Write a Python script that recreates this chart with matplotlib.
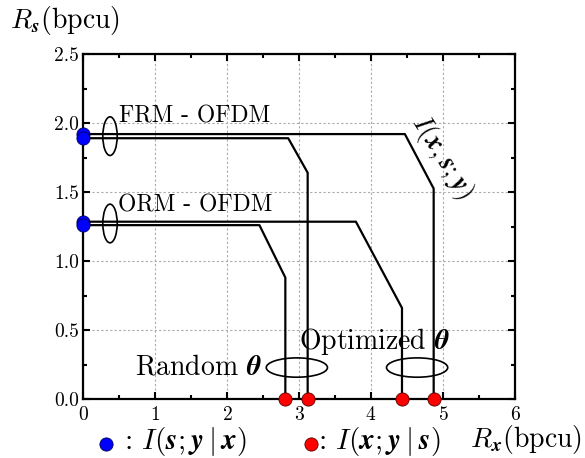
import numpy as np
import matplotlib
matplotlib.use('Agg')
import matplotlib.pyplot as plt
from matplotlib.patches import Ellipse
from matplotlib.lines import Line2D

plt.rcParams['font.family'] = 'cmr10'
plt.rcParams['mathtext.fontset'] = 'cm'
plt.rcParams['axes.formatter.use_mathtext'] = True

# rate-region boundaries (x = R_x, y = R_s)
frm_opt_x = [0, 4.47, 4.87, 4.87]
frm_opt_y = [1.92, 1.92, 1.525, 0]
frm_rand_x = [0, 2.85, 3.12, 3.12]
frm_rand_y = [1.89, 1.89, 1.64, 0]
orm_opt_x = [0, 3.79, 4.43, 4.43]
orm_opt_y = [1.285, 1.285, 0.66, 0]
orm_rand_x = [0, 2.45, 2.81, 2.81]
orm_rand_y = [1.26, 1.26, 0.88, 0]

curves = [(frm_opt_x, frm_opt_y), (frm_rand_x, frm_rand_y),
          (orm_opt_x, orm_opt_y), (orm_rand_x, orm_rand_y)]

fig = plt.figure(figsize=(5.85, 4.58), dpi=100)
ax = fig.add_axes([0.1419, 0.1288, 0.7385, 0.7532])

for cx, cy in curves:
    ax.plot(cx, cy, color='k', lw=1.6, zorder=3)

# blue: I(s;y|x) on the R_s axis, red: I(x;y|s) on the R_x axis
for cx, cy in curves:
    ax.plot(0, cy[0], 'o', ms=9.5, mfc='#0000ff', mec='#000055', mew=0.6,
            clip_on=False, zorder=5)
    ax.plot(cx[-1], 0, 'o', ms=9.5, mfc='#ff0000', mec='#550000', mew=0.6,
            clip_on=False, zorder=5)

# ellipses grouping the curves
ax.add_patch(Ellipse((0.375, 1.905), 0.2, 0.28, fill=False, lw=1.2, zorder=4))
ax.add_patch(Ellipse((0.375, 1.272), 0.2, 0.28, fill=False, lw=1.2, zorder=4))
ax.add_patch(Ellipse((2.97, 0.228), 0.85, 0.14, fill=False, lw=1.2, zorder=4))
ax.add_patch(Ellipse((4.64, 0.228), 0.85, 0.14, fill=False, lw=1.2, zorder=4))

ax.text(0.5, 2.05, 'FRM - OFDM', fontsize=17, va='center', ha='left')
ax.text(0.49, 1.40, 'ORM - OFDM', fontsize=17, va='center', ha='left')
ax.text(2.48, 0.23, r'Random $\boldsymbol{\theta}$', fontsize=20,
        va='center', ha='right')
ax.text(3.0, 0.42, r'Optimized $\boldsymbol{\theta}$', fontsize=20,
        va='center', ha='left')
ax.text(4.98, 1.75, r'$I(\boldsymbol{x},\boldsymbol{s};\boldsymbol{y})$',
        fontsize=19.5, rotation=-58, va='center', ha='center',
        rotation_mode='anchor')

ax.set_xlim(0, 6)
ax.set_ylim(0, 2.5)
ax.set_xticks(np.arange(0, 7, 1))
ax.set_yticks(np.arange(0, 2.51, 0.5))
ax.set_xticks(np.arange(0.5, 6, 1), minor=True)
ax.set_yticks(np.arange(0.25, 2.5, 0.5), minor=True)
ax.set_yticklabels(['0.0', '0.5', '1.0', '1.5', '2.0', '2.5'])
ax.tick_params(which='both', direction='in', top=True, right=True,
               labelsize=14, width=1.5)
ax.tick_params(axis='x', pad=5)
ax.tick_params(axis='y', pad=3)
ax.tick_params(which='major', length=5)
ax.tick_params(which='minor', length=3)
for s in ax.spines.values():
    s.set_linewidth(1.6)
ax.grid(True, which='major', ls=(0, (2, 2)), color='#aaaaaa', lw=0.8)

# axis labels
fig.text(0.017, 0.955, r'$R_{\boldsymbol{s}}$(bpcu)', fontsize=20,
         va='center', ha='left')
fig.text(0.803, 0.04, r'$R_{\boldsymbol{x}}$(bpcu)', fontsize=20,
         va='center', ha='left')

# legend under the axis
fig.add_artist(Line2D([106 / 585], [1 - 444 / 458], marker='o', ms=9.5,
                      mfc='#0000ff', mec='#000055', mew=0.6, ls='none'))
fig.text(124 / 585, 1 - 442 / 458,
         r': $I(\boldsymbol{s};\boldsymbol{y}\mid\boldsymbol{x})$',
         fontsize=21, va='center', ha='left')
fig.add_artist(Line2D([311 / 585], [1 - 444 / 458], marker='o', ms=9.5,
                      mfc='#ff0000', mec='#550000', mew=0.6, ls='none'))
fig.text(318 / 585, 1 - 442 / 458,
         r': $I(\boldsymbol{x};\boldsymbol{y}\mid\boldsymbol{s})$',
         fontsize=21, va='center', ha='left')

fig.savefig('out.png', dpi=100)
